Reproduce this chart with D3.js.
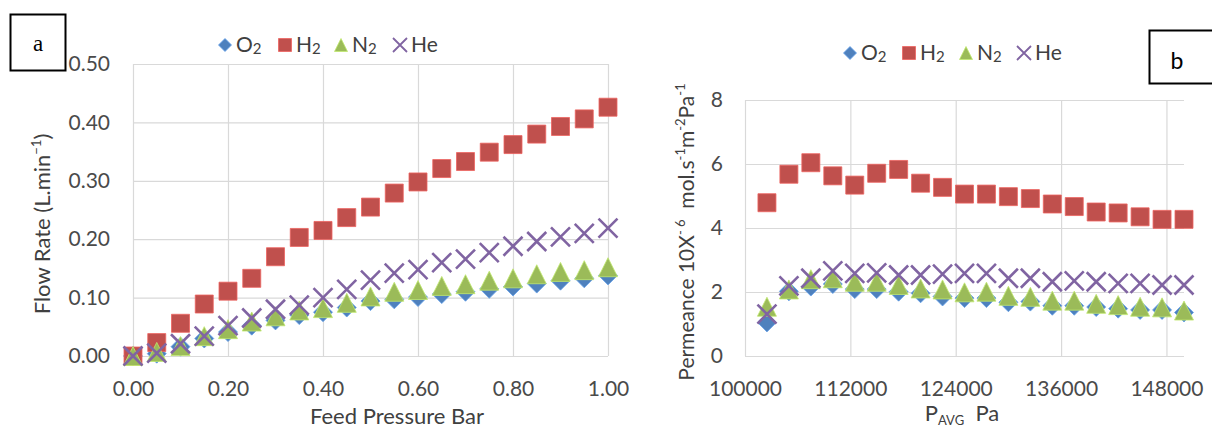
<!DOCTYPE html>
<html><head><meta charset="utf-8">
<script src="https://cdn.jsdelivr.net/npm/d3@7"></script>
<style>
body{margin:0;background:#fff;}
svg{display:block;font-family:Lato,"Open Sans",sans-serif;}
text{white-space:pre;}
</style></head>
<body><svg id="c" width="1212" height="430"></svg>
<script>
// ---------- DATA ----------
const gases = ["O2", "H2", "N2", "He"];
const feedPressureBar = [0,0.05,0.10,0.15,0.20,0.25,0.30,0.35,0.40,0.45,0.50,0.55,0.60,0.65,0.70,0.75,0.80,0.85,0.90,0.95,1.00];
const flowO2 = [0,0.004,0.016,0.030,0.041,0.052,0.061,0.070,0.075,0.083,0.094,0.097,0.101,0.106,0.110,0.115,0.119,0.124,0.129,0.133,0.138];
const flowH2 = [0,0.023,0.056,0.089,0.111,0.133,0.170,0.203,0.215,0.237,0.255,0.279,0.298,0.321,0.333,0.349,0.362,0.380,0.393,0.406,0.426];
const flowN2 = [0,0.007,0.017,0.034,0.046,0.059,0.068,0.078,0.082,0.091,0.102,0.110,0.113,0.120,0.123,0.129,0.133,0.140,0.144,0.147,0.152];
const flowHe = [0,0.005,0.021,0.034,0.052,0.065,0.080,0.087,0.100,0.114,0.130,0.142,0.148,0.160,0.166,0.177,0.188,0.196,0.204,0.210,0.219];

const pAvgPa = [102500,105000,107500,110000,112500,115000,117500,120000,122500,125000,127500,130000,132500,135000,137500,140000,142500,145000,147500,150000];
const permO2 = [1.05,2.02,2.17,2.25,2.09,2.09,2.01,1.96,1.86,1.81,1.81,1.68,1.70,1.57,1.57,1.53,1.48,1.44,1.44,1.36];
const permH2 = [4.79,5.68,6.04,5.63,5.34,5.71,5.83,5.40,5.27,5.06,5.06,4.98,4.92,4.75,4.67,4.50,4.47,4.35,4.27,4.27];
const permN2 = [1.54,2.08,2.40,2.43,2.32,2.32,2.22,2.11,2.08,1.99,2.01,1.88,1.85,1.73,1.73,1.63,1.59,1.54,1.52,1.42];
const permHe = [1.31,2.19,2.43,2.66,2.58,2.60,2.53,2.53,2.56,2.58,2.58,2.43,2.43,2.32,2.35,2.32,2.27,2.27,2.22,2.22];

const xTicksA = [0,0.2,0.4,0.6,0.8,1.0];
const yTicksA = [0,0.1,0.2,0.3,0.4,0.5];
const xTicksB = [100000,112000,124000,136000,148000];
const yTicksB = [0,2,4,6,8];

// ---------- STYLE ----------
const colors = {O2:"#4F81BD", H2:"#C0504D", N2:"#9BBB59", He:"#8064A2"};
const shapes = {O2:"diamond", H2:"square", N2:"triangle", He:"x"};
const gridColor = "#d9d9d9";
const tickColor = "#4a4a4a";
const titleColor = "#404040";
const FONT = "Lato, 'Open Sans', sans-serif";

const svg = d3.select("#c");

function markerPath(shape, s){
  const h = s/2;
  if(shape==="diamond") return `M0,${-h}L${h},0L0,${h}L${-h},0Z`;
  if(shape==="square") return `M${-h},${-h}H${h}V${h}H${-h}Z`;
  if(shape==="triangle") return `M0,${-h}L${h},${h}L${-h},${h}Z`;
  return `M${-h},${-h}L${h},${h}M${h},${-h}L${-h},${h}`;
}
function drawMarker(g, shape, color, s){
  const p = g.append("path").attr("d", markerPath(shape, s));
  if(shape==="x") p.attr("fill","none").attr("stroke",color).attr("stroke-width", s>15?2.6:1.8);
  else p.attr("fill",color).attr("stroke", d3.color(color).brighter(0.6)).attr("stroke-width",0.8);
  return p;
}

function panel(cfg){
  const g = svg.append("g");
  const x = d3.scaleLinear().domain(cfg.xDomain).range([cfg.left, cfg.right]);
  const y = d3.scaleLinear().domain(cfg.yDomain).range([cfg.bottom, cfg.top]);
  const ya = g.append("g").attr("transform",`translate(${cfg.left},0)`)
    .call(d3.axisLeft(y).tickValues(cfg.yTicks).tickFormat(cfg.yFmt)
      .tickSize(-(cfg.right-cfg.left)).tickPadding(cfg.yPad));
  const xa = g.append("g").attr("transform",`translate(0,${cfg.bottom})`)
    .call(d3.axisBottom(x).tickValues(cfg.xTicks).tickFormat(cfg.xFmt)
      .tickSize(-(cfg.bottom-cfg.top)).tickPadding(cfg.xPad));
  [ya, xa].forEach(a=>{
    a.select(".domain").remove();
    a.selectAll(".tick line").attr("stroke",gridColor).attr("stroke-width",1.2);
    a.selectAll(".tick text").attr("fill",tickColor).attr("font-size",21)
      .attr("font-family",FONT);
  });
  gases.forEach(k=>{
    const vals = cfg.series[k];
    const sg = g.append("g");
    cfg.xs.forEach((xv,i)=>{
      const m = sg.append("g").attr("transform",`translate(${x(xv)},${y(vals[i])})`);
      drawMarker(m, shapes[k], colors[k], cfg.mSize[k]);
    });
  });
  const lg = g.append("g");
  cfg.legendX.forEach((lx,i)=>{
    const k = gases[i];
    const m = lg.append("g").attr("transform",`translate(${lx},${cfg.legendY})`);
    drawMarker(m, shapes[k], colors[k], shapes[k]==="x"?14:13);
    const t = lg.append("text").attr("x", lx+11).attr("y", cfg.legendY+7)
      .attr("font-size",21).attr("fill",titleColor);
    t.append("tspan").text(k==="He"?"He":k[0]);
    if(k!=="He") t.append("tspan").attr("font-size",15).attr("dy",2).text("2");
  });
  return {g,x,y};
}

const mSize = {O2:19, H2:18, N2:19, He:19};

const A = panel({
  left:133, right:608, top:64, bottom:356,
  xDomain:[0,1], yDomain:[0,0.5],
  xTicks:xTicksA, yTicks:yTicksA,
  xFmt:d3.format(".2f"), yFmt:d3.format(".2f"),
  yPad:23, xPad:25,
  xs:feedPressureBar,
  series:{O2:flowO2, H2:flowH2, N2:flowN2, He:flowHe},
  mSize,
  legendX:[225, 285, 341, 400], legendY:45
});
const B = panel({
  left:745, right:1184, top:100, bottom:356,
  xDomain:[100000,150000], yDomain:[0,8],
  xTicks:xTicksB, yTicks:yTicksB,
  xFmt:d3.format("d"), yFmt:d3.format("d"),
  yPad:22, xPad:25,
  xs:pAvgPa,
  series:{O2:permO2, H2:permH2, N2:permN2, He:permHe},
  mSize,
  legendX:[850, 909, 966, 1024], legendY:53
});

// Axis titles
svg.append("text").attr("transform","translate(50,224) rotate(-90)")
  .attr("text-anchor","middle").attr("font-size",22).attr("fill",titleColor)
  .call(t=>{
    t.append("tspan").text("Flow Rate (L.min");
    t.append("tspan").attr("font-size",13).attr("dy",-9).text("−1");
    t.append("tspan").attr("dy",9).text(")");
  });
svg.append("text").attr("x",397).attr("y",424).attr("text-anchor","middle")
  .attr("font-size",22).attr("fill",titleColor).text("Feed Pressure Bar");

svg.append("text").attr("transform","translate(694,232) rotate(-90)")
  .attr("text-anchor","middle").attr("font-size",21).attr("fill",titleColor)
  .call(t=>{
    t.append("tspan").text("Permeance 10X");
    t.append("tspan").attr("font-size",13).attr("dy",-9).text("- 6");
    t.append("tspan").attr("dy",9).text("  mol.s");
    t.append("tspan").attr("font-size",13).attr("dy",-9).text("-1");
    t.append("tspan").attr("dy",9).text("m");
    t.append("tspan").attr("font-size",13).attr("dy",-9).text("-2");
    t.append("tspan").attr("dy",9).text("Pa");
    t.append("tspan").attr("font-size",13).attr("dy",-9).text("-1");
  });
svg.append("text").attr("x",962).attr("y",421).attr("text-anchor","middle")
  .attr("font-size",22).attr("fill",titleColor)
  .call(t=>{
    t.append("tspan").text("P");
    t.append("tspan").attr("font-size",13).attr("dy",4).text("AVG");
    t.append("tspan").attr("dy",-4).text("  Pa");
  });

// Panel label boxes
svg.append("rect").attr("x",10.5).attr("y",14.5).attr("width",55).attr("height",56)
  .attr("fill","#fff").attr("stroke","#000").attr("stroke-width",2);
svg.append("text").attr("x",38).attr("y",51).attr("text-anchor","middle")
  .attr("font-family","'Liberation Serif', serif").attr("font-size",23).attr("fill","#000").text("a");
svg.append("rect").attr("x",1149.5).attr("y",30.5).attr("width",70).attr("height",53)
  .attr("fill","#fff").attr("stroke","#000").attr("stroke-width",2);
svg.append("text").attr("x",1177).attr("y",69).attr("text-anchor","middle")
  .attr("font-family",FONT).attr("font-size",23).attr("fill","#000").text("b");
</script></body></html>
